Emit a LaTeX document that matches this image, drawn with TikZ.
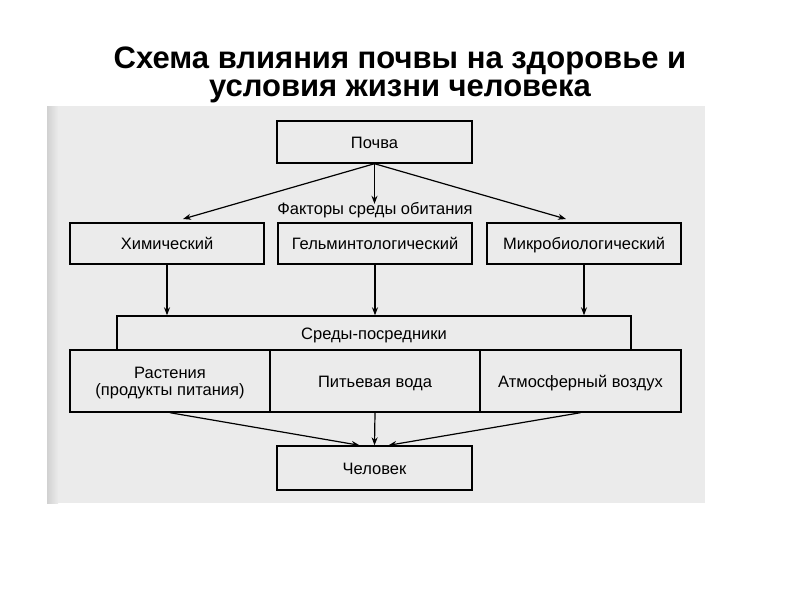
\documentclass[tikz,border=0pt]{standalone}
\usepackage{fontspec}
\setmainfont{Liberation Sans}
\usetikzlibrary{arrows.meta}
\begin{document}
\begin{tikzpicture}[x=1pt,y=-1pt,
  boxbase/.style={draw=black, line width=1.4pt, inner sep=0pt, font=\fontsize{16.5}{18}\selectfont, text=black, align=center},
  box/.style={boxbase, text height=12pt, text depth=0pt},
  arr/.style={line width=1.2pt, -{Stealth[length=8pt,width=6pt]}},
  lbl/.style={inner sep=0pt, font=\fontsize{16.5}{18}\selectfont, text=black, text height=12pt, text depth=0pt}]
\useasboundingbox (0,0) rectangle (800,600);
\fill[white] (0,0) rectangle (800,600);
\fill[black!8] (47,106) rectangle (705,503);
\fill[left color=black!18, right color=black!8] (47,106) rectangle (58,503);
% title
\node[anchor=base, inner sep=0pt, font=\fontsize{31}{34}\selectfont\bfseries] (t1) at (400,68) {Схема влияния почвы на здоровье и};
\node[anchor=base, inner sep=0pt, font=\fontsize{31}{34}\selectfont\bfseries] (t2) at (400,96) {условия жизни человека};
% boxes
\node[box, minimum width=195pt, minimum height=42pt] (pochva) at (374.5,142) {Почва};
\node[lbl] (factors) at (375,208) {Факторы среды обитания};
\node[box, minimum width=194pt, minimum height=41pt] (him) at (167,243.5) {Химический};
\node[box, minimum width=194pt, minimum height=41pt] (gelm) at (375,243.5) {Гельминтологический};
\node[box, minimum width=194pt, minimum height=41pt] (micro) at (584,243.5) {Микробиологический};
\node[box, minimum width=514pt, minimum height=34pt] (sredy) at (374,333) {Среды-посредники};
\node[boxbase, minimum width=200pt, minimum height=62pt] (rast) at (170,381) {};
\node[inner sep=0pt, align=center, font=\fontsize{16.5}{17.5}\selectfont, text=black] (rasttext) at (170,383) {Растения\\(продукты питания)};
\node[box, minimum width=210pt, minimum height=62pt] (water) at (375,381) {Питьевая вода};
\node[box, minimum width=201pt, minimum height=62pt] (air) at (580.5,381) {Атмосферный воздух};
\node[box, minimum width=195pt, minimum height=44pt] (chel) at (374.5,468) {Человек};
% free ends
\coordinate (tipL) at (183,219);
\coordinate (tipR) at (566,219);
% arrows
\draw[arr] (pochva.south) -- ([yshift=-2pt]pochva.south |- factors.north);
\draw[arr] (pochva.south) -- (tipL);
\draw[arr] (pochva.south) -- (tipR);
\draw[arr] (him.south) -- (him.south |- sredy.north);
\draw[arr] (gelm.south) -- (gelm.south |- sredy.north);
\draw[arr] (micro.south) -- (micro.south |- sredy.north);
\draw[arr] (rast.south) -- ([xshift=-15pt]chel.north);
\draw[arr] (water.south) -- (chel.north);
\draw[arr] (air.south) -- ([xshift=14pt]chel.north);
\end{tikzpicture}
\end{document}
